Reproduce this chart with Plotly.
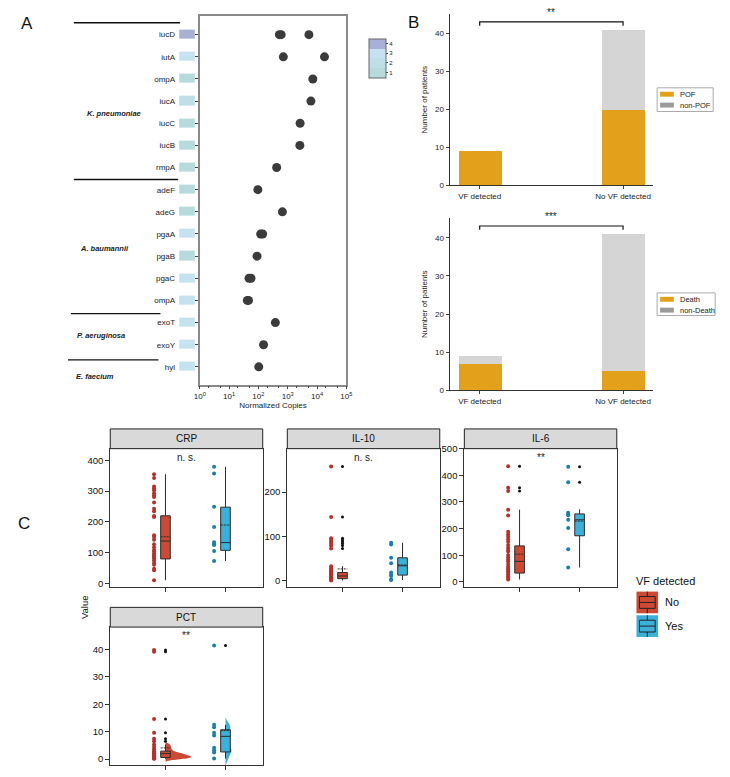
import plotly.graph_objects as go

W, H = 730, 777
FONT = "Liberation Sans, Arial, Helvetica, sans-serif"


def px(x):
    return x / W


def py(y):
    return 1 - y / H


# ---------------- Panel A data ----------------
genes = ["iucD", "iutA", "ompA", "iucA", "iucC", "iucB", "rmpA",
         "adeF", "adeG", "pgaA", "pgaB", "pgaC", "ompA",
         "exoT", "exoY", "hyl"]
gene_copies = [[520, 600, 5300], [710, 18000], [7200], [6200], [2650], [2600], [420],
               [96], [660], [120, 140], [90], [48, 56], [42, 46],
               [380], [150], [103]]
detect_level = [4, 3, 1, 2, 1, 1, 1, 1, 1, 3, 1, 3, 3, 3, 3, 3]
level_ticks = [1, 2, 3, 4]
copies_ticks = [1, 10, 100, 1000, 10000, 100000]
copies_ticktext = ["10<sup>0</sup>", "10<sup>1</sup>", "10<sup>2</sup>",
                   "10<sup>3</sup>", "10<sup>4</sup>", "10<sup>5</sup>"]
species = ["K. pneumoniae", "A. baumannii", "P. aeruginosa", "E. faecium"]

# ---------------- Panel B data ----------------
b_groups = ["VF detected", "No VF detected"]
pof = [9, 20]
non_pof = [0, 21]
death = [7, 5]
non_death = [2, 36]
b_sig = ["**", "***"]
b_legend_top = ["POF", "non-POF"]
b_legend_bot = ["Death", "non-Death"]

# ---------------- Panel C data ----------------
markers = ["CRP", "IL-10", "IL-6", "PCT"]
c_sig = ["n. s.", "n. s.", "**", "**"]
vf_groups = ["No", "Yes"]

crp_no = [355, 343, 315, 309, 303, 293, 286, 281, 263, 243, 235, 219, 216, 157, 151,
          142, 128, 118, 109, 104, 97, 93, 88, 82, 75, 67, 61, 48, 43, 11]
crp_yes = [379, 357, 249, 184, 134, 128, 125, 106, 73]
il10_no = [258, 144, 96, 92, 88, 84, 80, 73, 33, 28, 24, 22, 19, 17, 15, 13, 12, 11,
           10, 9, 8, 7, 6, 5, 4, 3, 2, 1]
il10_yes = [86, 82, 52, 40, 19, 14, 11, 3, 2]
il6_no = [434, 353, 341, 271, 249, 188, 178, 169, 160, 151, 138, 128, 120, 114, 101,
          91, 83, 77, 67, 58, 52, 46, 40, 33, 27, 21, 15, 9]
il6_yes = [432, 374, 259, 255, 250, 233, 202, 122, 54]
pct_no = [39.8, 39.2, 14.6, 9.6, 7.4, 6.5, 5.3, 4.4, 3.6, 2.9, 2.4, 2.1, 1.9, 1.6,
          1.4, 1.2, 1.0, 0.9, 0.7, 0.5, 0.3, 0.2, 0.1]
pct_yes = [41.5, 12.5, 11.6, 9.6, 8.6, 4.1, 3.2, 2.4, 0.2]

# box statistics: q1, median, q3, lower whisker, upper whisker, mean
crp_no_stats = [80, 138, 220, 11, 355, 152]
crp_yes_stats = [108, 133, 248, 73, 379, 190]
il10_no_stats = [5, 11, 19, 1, 33, 27]
il10_yes_stats = [13, 34, 52, 2, 86, 36]
il6_no_stats = [33, 77, 135, 9, 271, 104]
il6_yes_stats = [173, 233, 255, 54, 272, 228]
pct_no_stats = [0.6, 2.0, 2.9, 0.1, 5.3, 4.1]
pct_yes_stats = [2.6, 8.3, 10.7, 0.2, 12.5, 10.4]

RED_PT, RED_BOX = "#b5312b", "#cc4a33"
BLUE_PT, BLUE_BOX = "#1a80a8", "#3cb0d9"
ORANGE, GRAY = "#e3a11b", "#d5d5d5"

fig = go.Figure()

# ---------------- Panel A ----------------
ax_x, ax_y = [], []
for i, vals in enumerate(gene_copies):
    for v in vals:
        ax_x.append(v)
        ax_y.append(i)
fig.add_trace(go.Scatter(x=ax_x, y=ax_y, mode="markers", xaxis="x", yaxis="y",
                         marker=dict(size=9, color="#3b3b3b"), showlegend=False))

c1, c2, c3, c4 = "#b7dadc", "#bfdfe6", "#c6e2f0", "#a9b0d6"
dscale = [[0, c1], [0.25, c1], [0.25, c2], [0.5, c2], [0.5, c3], [0.75, c3],
          [0.75, c4], [1, c4]]
fig.add_trace(go.Heatmap(z=[[v] for v in detect_level], x=[0], y=list(range(len(genes))),
                         xaxis="x2", yaxis="y2", colorscale=dscale, zmin=0.5, zmax=4.5,
                         ygap=13, xgap=0, showscale=True,
                         colorbar=dict(x=px(369), xanchor="left", y=py(33), yanchor="top",
                                       len=40 / H, lenmode="fraction", thickness=17,
                                       xpad=0, ypad=0, tickvals=level_ticks,
                                       ticks="outside", ticklen=2,
                                       tickfont=dict(size=6, family=FONT, color="#222"),
                                       outlinecolor="#666", outlinewidth=1)))

# ---------------- Panel B ----------------
bx = [0, 1]
for n, series, names in [(3, [pof, non_pof], b_legend_top), (4, [death, non_death], b_legend_bot)]:
    for vals, nm, col in zip(series, names, [ORANGE, GRAY]):
        fig.add_trace(go.Bar(x=bx, y=vals, width=0.3, name=nm,
                             marker=dict(color=col, line=dict(width=0)),
                             xaxis="x%d" % n, yaxis="y%d" % n, showlegend=False))

# ---------------- Panel C ----------------
panel_data = [
    (crp_no, crp_yes, crp_no_stats, crp_yes_stats),
    (il10_no, il10_yes, il10_no_stats, il10_yes_stats),
    (il6_no, il6_yes, il6_no_stats, il6_yes_stats),
    (pct_no, pct_yes, pct_no_stats, pct_yes_stats),
]
for k, (no_v, yes_v, no_s, yes_s) in enumerate(panel_data):
    xa, ya = "x%d" % (k + 5), "y%d" % (k + 5)
    if markers[k] == "PCT":
        for pos, vals, st, col, vw, bw in [(1, no_v, no_s, RED_BOX, 0.86, 0.45),
                                           (2, yes_v, yes_s, BLUE_BOX, 0.2, 1.3)]:
            core = [v for v in vals if v <= st[4]]
            fig.add_trace(go.Violin(x=[pos] * len(core), y=core, side="positive", width=vw,
                                    scalemode="width", points=False,
                                    spanmode="soft", bandwidth=bw,
                                    line=dict(color=col, width=0), fillcolor=col,
                                    box=dict(visible=False), meanline=dict(visible=False),
                                    xaxis=xa, yaxis=ya, showlegend=False, hoverinfo="skip"))
    for pos, vals, st, pcol, bcol in [(1, no_v, no_s, RED_PT, RED_BOX),
                                      (2, yes_v, yes_s, BLUE_PT, BLUE_BOX)]:
        fig.add_trace(go.Scatter(x=[pos - 0.19] * len(vals), y=vals, mode="markers",
                                 marker=dict(size=4, color=pcol), xaxis=xa, yaxis=ya,
                                 showlegend=False))
        fig.add_trace(go.Box(x=[pos], q1=[st[0]], median=[st[1]], q3=[st[2]],
                             lowerfence=[st[3]], upperfence=[st[4]], mean=[st[5]],
                             boxmean=True, boxpoints=False, width=0.16, whiskerwidth=0,
                             fillcolor=bcol, line=dict(color="#2b2b2b", width=1),
                             xaxis=xa, yaxis=ya, showlegend=False))
        outl = [v for v in vals if v > st[4]]
        fig.add_trace(go.Scatter(x=[pos] * len(outl), y=outl, mode="markers",
                                 marker=dict(size=3, color="#111"), xaxis=xa, yaxis=ya,
                                 showlegend=False))

# ---------------- Axes ----------------
tickf = dict(size=8, family=FONT, color="#222")
gene_idx = list(range(len(genes)))
a_yrange = [15.8, -0.85]
layout_axes = dict(
    xaxis=dict(domain=[px(197), px(346)], type="log", range=[0, 5], tickvals=copies_ticks,
               ticktext=copies_ticktext, ticks="outside", ticklen=3, showgrid=False,
               showline=True, mirror=True, linecolor="#8a8a8a", linewidth=1.5,
               minor=dict(ticks="outside", ticklen=2, showgrid=False), tickfont=tickf,
               title=dict(text="Normalized Copies", font=dict(size=8, family=FONT, color="#222"),
                          standoff=2), anchor="y", zeroline=False),
    yaxis=dict(domain=[py(384), py(10)], range=a_yrange, tickvals=gene_idx, showticklabels=False,
               ticks="outside", ticklen=3, showgrid=False, showline=True, mirror=True,
               linecolor="#8a8a8a", linewidth=1.5, anchor="x", zeroline=False),
    xaxis2=dict(domain=[px(176), px(192)], range=[-0.5, 0.5], showticklabels=False, ticks="",
                showgrid=False, showline=False, zeroline=False, anchor="y2"),
    yaxis2=dict(domain=[py(384), py(10)], range=a_yrange, tickvals=gene_idx, ticktext=genes,
                ticks="", showgrid=False, showline=False, zeroline=False, anchor="x2",
                tickfont=tickf, ticklabelstandoff=3),
)
for n, (y0, y1) in zip([3, 4], [(182, 8), (390, 215)]):
    layout_axes["xaxis%d" % n] = dict(domain=[px(451), px(658)], range=[-0.21, 1.21], tickvals=bx,
                                      ticktext=b_groups, ticks="outside", ticklen=3, showgrid=False,
                                      showline=True, linecolor="#333", zeroline=False,
                                      tickfont=tickf, anchor="y%d" % n)
    layout_axes["yaxis%d" % n] = dict(domain=[py(y0), py(y1)], range=[0, 45.2],
                                      tickvals=[0, 10, 20, 30, 40], ticks="outside", ticklen=3,
                                      showgrid=False, showline=True, linecolor="#333",
                                      zeroline=False, tickfont=tickf, anchor="x%d" % n,
                                      title=dict(text="Number of patients",
                                                 font=dict(size=8, family=FONT, color="#222"),
                                                 standoff=6))

c_xdom = [(106, 261), (286, 441), (466, 621), (106, 261)]
c_ydom = [(449, 589), (449, 589), (449, 589), (630, 770)]
c_yrange = [[-10, 438], [-13, 298], [-18, 500], [-2.2, 48.2]]
c_yticks = [[0, 100, 200, 300, 400], [0, 100, 200], [0, 100, 200, 300, 400, 500],
            [0, 10, 20, 30, 40]]
ctickf = dict(size=9.5, family=FONT, color="#111")
for k in range(4):
    n = k + 5
    layout_axes["xaxis%d" % n] = dict(domain=[px(c_xdom[k][0]), px(c_xdom[k][1])],
                                      range=[0.08, 2.62], tickvals=[1, 2], showticklabels=False,
                                      ticks="outside", ticklen=4, tickcolor="#333",
                                      showgrid=False, showline=True, mirror=True,
                                      linecolor="#333", linewidth=1, zeroline=False,
                                      anchor="y%d" % n)
    layout_axes["yaxis%d" % n] = dict(domain=[py(c_ydom[k][1]), py(c_ydom[k][0])],
                                      range=c_yrange[k], tickvals=c_yticks[k], ticks="outside",
                                      ticklen=4, tickcolor="#333", showgrid=False, showline=True,
                                      mirror=True, linecolor="#333", linewidth=1, zeroline=False,
                                      tickfont=ctickf, anchor="x%d" % n)

# ---------------- Shapes & annotations ----------------
shapes = []
annots = []


def note(text, x, y, size, xanchor="center", yanchor="middle", **kw):
    annots.append(dict(text=text, x=px(x), y=py(y), xref="paper", yref="paper",
                       xanchor=xanchor, yanchor=yanchor, showarrow=False,
                       font=dict(size=size, family=FONT, color=kw.pop("color", "#111")), **kw))


def hline(x0, x1, y, color="#222", width=1):
    shapes.append(dict(type="line", xref="paper", yref="paper", x0=px(x0), x1=px(x1),
                       y0=py(y), y1=py(y), line=dict(color=color, width=width)))


def rect(x0, y0, x1, y1, fill=None, line_color=None, lw=1):
    d = dict(type="rect", xref="paper", yref="paper", x0=px(x0), x1=px(x1),
             y0=py(y1), y1=py(y0), line=dict(width=lw if line_color else 0))
    if line_color:
        d["line"]["color"] = line_color
    if fill:
        d["fillcolor"] = fill
    shapes.append(d)


# panel letters
for lab, x, y in [("A", 13, 18), ("B", 407, 17), ("C", 10, 525)]:
    note(lab, x, y, 17, xanchor="left")

# species separators and labels
for (x0, x1, y) in [(69, 177, 17), (69, 175, 176), (66, 157, 312), (63, 155, 359)]:
    hline(x0, x1, y, color="#111", width=1.3)
for name, x, y in zip(species, [110, 100, 97, 90], [109, 246, 334, 376]):
    note("<b><i>%s</i></b>" % name, x, y, 7.5, color="#222")

# significance brackets in B
totals_top = [a + b for a, b in zip(pof, non_pof)]
totals_bot = [a + b for a, b in zip(death, non_death)]
for n, tot, sig in [(3, totals_top, b_sig[0]), (4, totals_bot, b_sig[1])]:
    top = max(tot) + 2.1
    shapes.append(dict(type="path", xref="x%d" % n, yref="y%d" % n,
                       path="M %s,%s L %s,%s L %s,%s L %s,%s" % (bx[0], top - 1, bx[0], top,
                                                                 bx[1], top, bx[1], top - 1),
                       line=dict(color="#111", width=1.2)))
    annots.append(dict(text=sig, x=0.5, y=top + 0.4, xref="x%d" % n, yref="y%d" % n,
                       showarrow=False, xanchor="center", yanchor="bottom",
                       font=dict(size=10, family=FONT, color="#222")))

# B legends (drawn)
for names, (bx0, by0, bx1, by1) in [(b_legend_top, (662, 83, 719, 107)),
                                     (b_legend_bot, (662, 291, 721, 314))]:
    rect(bx0, by0, bx1, by1, fill="white", line_color="#aaa", lw=1)
    for j, (nm, col) in enumerate(zip(names, [ORANGE, "#9a9a9a"])):
        cy = by0 + 6.5 + j * 11
        rect(bx0 + 3, cy - 2.5, bx0 + 17, cy + 2.5, fill=col)
        note(nm, bx0 + 21, cy, 7.5, xanchor="left", color="#222")

# strips & significance in C
strip_y = [(429, 449), (429, 449), (429, 449), (610, 630)]
for k in range(4):
    x0, x1 = c_xdom[k]
    s0, s1 = strip_y[k]
    rect(x0, s0, x1, s1, fill="#d9d9d9", line_color="#222", lw=1)
    note(markers[k], (x0 + x1) / 2, (s0 + s1) / 2, 10)
    note(c_sig[k], (x0 + x1) / 2, s1 + 1, 10, yanchor="top", color="#222")

note("Value", 80, 610, 9.5, textangle=-90)

# VF detected legend
note("VF detected", 638, 583, 11, xanchor="left")
for lab, col, top in [(vf_groups[0], RED_BOX, 594), (vf_groups[1], BLUE_BOX, 618)]:
    rect(641, top, 663, top + 22, fill=col)
    rect(644, top + 5, 660, top + 17, line_color="#222", lw=1)
    hline(644, 660, top + 11)
    for a, b in [(top, top + 5), (top + 17, top + 22)]:
        shapes.append(dict(type="line", xref="paper", yref="paper", x0=px(652), x1=px(652),
                           y0=py(a), y1=py(b), line=dict(color="#222", width=1)))
    note(lab, 668, top + 11, 11, xanchor="left")

fig.update_layout(
    width=W, height=H, margin=dict(l=0, r=0, t=0, b=0),
    paper_bgcolor="white", plot_bgcolor="white",
    font=dict(family=FONT, size=8, color="#222"),
    barmode="stack", bargap=0, showlegend=False,
    shapes=shapes, annotations=annots,
    **layout_axes,
)
fig.write_html("out.html")
